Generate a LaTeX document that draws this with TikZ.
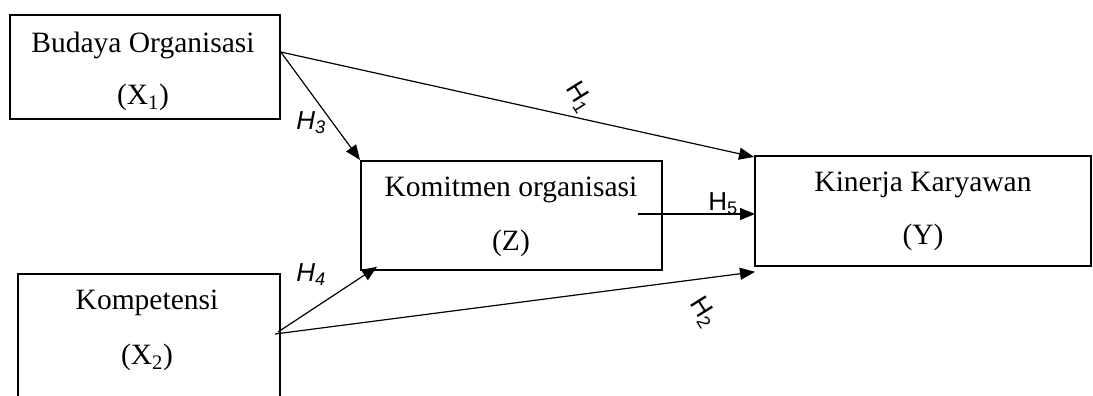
\documentclass[tikz,border=0pt]{standalone}
\usepackage{fontspec}
\setmainfont{Liberation Serif}
\newfontfamily\arialf{Liberation Sans}
\usetikzlibrary{arrows.meta,calc}
\begin{document}
\begin{tikzpicture}[x=1pt,y=-1pt,
  varbox/.style={draw,line width=1.8pt,rectangle,inner sep=0pt,anchor=north west},
  vartext/.style={font=\fontsize{29.5}{32}\selectfont,inner sep=0pt},
  hlabel/.style={font=\arialf\fontsize{26}{28}\selectfont,inner sep=0pt},
  path/.style={line width=1.2pt,-{Triangle[length=15pt,width=12pt]}}
]
\useasboundingbox (0,0) rectangle (1093,396);
% boxes
\node[varbox,minimum width=270pt,minimum height=104pt] (A) at (9,14) {};
\node[varbox,minimum width=262pt,minimum height=150pt] (B) at (17,273) {};
\node[varbox,minimum width=301pt,minimum height=109pt] (Z) at (360,160) {};
\node[varbox,minimum width=336pt,minimum height=110pt] (Y) at (754,155) {};
% texts
\node[vartext] (A1) at (143,45) {Budaya Organisasi};
\node[vartext] (A2) at (143,97) {(X\textsubscript{1})};
\node[vartext] (B1) at (147,303) {Kompetensi};
\node[vartext] (B2) at (147,357) {(X\textsubscript{2})};
\node[vartext] (Z1) at (511,190) {Komitmen organisasi};
\node[vartext] (Z2) at (511,243) {(Z)};
\node[vartext] (Y1) at (923,185) {Kinerja Karyawan};
\node[vartext] (Y2) at (923,237) {(Y)};
% connector start points
\coordinate (a0) at ($(A.north east)+(0,38)$);
\coordinate (b0) at ($(B.north west)+(258,61)$);
\coordinate (b1) at ($(B.north west)+(261,59)$);
\coordinate (z0) at ($(Z.north west)+(278,54)$);
\coordinate (y1) at ($(Y.north west)+(0,2)$);
\coordinate (y5) at ($(Y.north west)+(1,59)$);
\coordinate (y2) at ($(Y.south west)+(1,5)$);
\coordinate (z4) at ($(Z.south west)+(17,-4)$);
% arrows
\draw[path] (a0) -- (y1);
\draw[path] (a0) -- (Z.north west);
\draw[path] (b1) -- (z4);
\draw[path] (b0) -- (y2);
\draw[path] (z0) -- (y5);
% labels
\node[hlabel,rotate=-58] (h1) at (579,97) {H\textsubscript{1}};
\node[hlabel,rotate=-58] (h2) at (703,312) {H\textsubscript{2}};
\node[hlabel] (h3) at (311,123) {\itshape H\textsubscript{3}};
\node[hlabel] (h4) at (311,275) {\itshape H\textsubscript{4}};
\node[hlabel] (h5) at (723,204) {H\textsubscript{5}};
\end{tikzpicture}
\end{document}
